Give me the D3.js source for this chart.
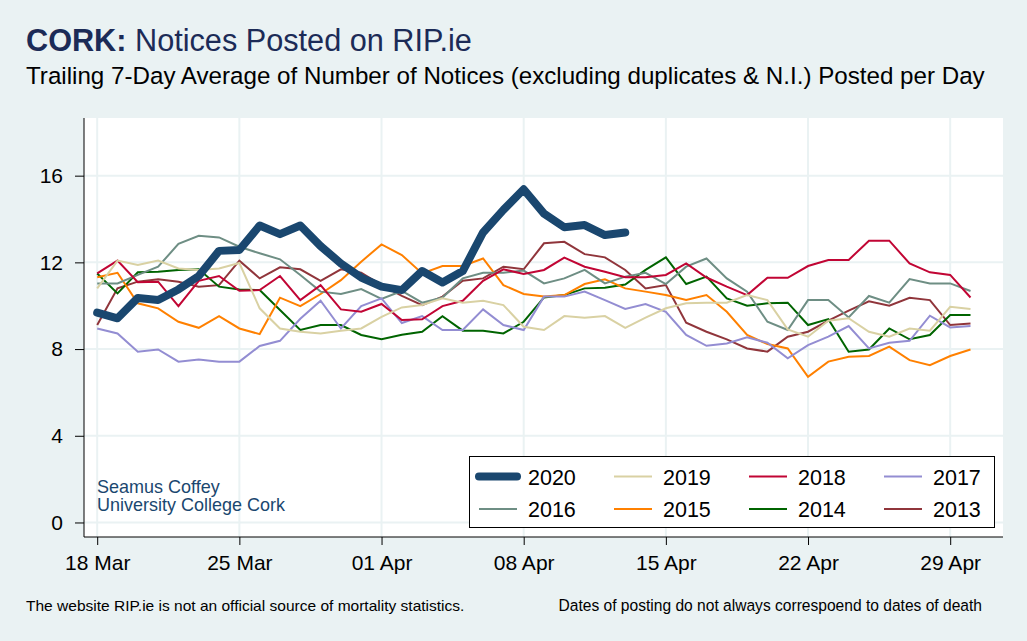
<!DOCTYPE html>
<html><head><meta charset="utf-8">
<script src="https://cdn.jsdelivr.net/npm/d3@7"></script>
<style>
html,body{margin:0;padding:0;background:#eaf2f3;}
svg{display:block;font-family:"Liberation Sans",Arial,sans-serif;}
</style></head>
<body><svg id="chart" width="1027" height="641"></svg>
<script>
// ---- data: day index 0 = 18 Mar ----
const tickDays = [0, 7, 14, 21, 28, 35, 42];
const tickLabels = ["18 Mar", "25 Mar", "01 Apr", "08 Apr", "15 Apr", "22 Apr", "29 Apr"];
const yTicks = [0, 4, 8, 12, 16];
const years = ["2020", "2019", "2018", "2017", "2016", "2015", "2014", "2013"];

const y2020 = [9.68, 9.42, 10.36, 10.26, 10.75, 11.37, 12.53, 12.57, 13.7, 13.3, 13.7, 12.75, 11.95, 11.3, 10.88, 10.72, 11.6, 11.07, 11.6, 13.38, 14.42, 15.37, 14.25, 13.62, 13.72, 13.26, 13.38];
const y2019 = [10.8, 12.08, 11.88, 12.08, 11.72, 11.65, 11.72, 11.97, 9.88, 8.95, 8.8, 8.72, 8.85, 8.95, 9.49, 9.92, 10.03, 10.34, 10.14, 10.23, 10.03, 9.03, 8.88, 9.52, 9.45, 9.52, 8.98, 9.45, 9.88, 10.11, 10.14, 10.14, 10.49, 10.26, 8.91, 8.57, 9.31, 9.42, 8.8, 8.57, 8.95, 8.85, 9.95, 9.85];
const y2018 = [11.49, 12.08, 11.08, 11.11, 9.98, 11.15, 11.37, 10.69, 10.72, 11.37, 10.26, 10.95, 9.83, 9.72, 10.08, 9.34, 9.37, 9.98, 10.23, 11.15, 11.68, 11.46, 11.65, 12.22, 11.8, 11.57, 11.31, 11.31, 11.42, 11.95, 11.3, 10.88, 10.49, 11.29, 11.29, 11.83, 12.11, 12.11, 13.0, 13.0, 11.95, 11.54, 11.42, 10.38];
const y2017 = [8.95, 8.72, 7.88, 7.98, 7.42, 7.52, 7.42, 7.42, 8.14, 8.38, 9.4, 10.23, 8.95, 9.98, 10.34, 9.2, 9.52, 8.88, 8.88, 9.83, 9.11, 8.88, 10.42, 10.42, 10.65, 10.26, 9.85, 10.08, 9.72, 8.65, 8.15, 8.26, 8.54, 8.29, 7.57, 8.18, 8.57, 9.06, 8.03, 8.29, 8.38, 9.54, 9.0, 9.06];
const y2016 = [11.03, 11.03, 11.42, 11.8, 12.85, 13.23, 13.15, 12.72, 12.42, 12.14, 11.42, 10.65, 10.54, 10.77, 10.31, 10.68, 10.14, 10.38, 11.26, 11.52, 11.52, 11.62, 11.03, 11.26, 11.65, 11.03, 11.34, 11.52, 11.0, 11.8, 12.18, 11.26, 10.65, 9.26, 8.88, 10.26, 10.26, 9.46, 10.45, 10.14, 11.23, 11.03, 11.03, 10.68];
const y2015 = [11.31, 11.52, 10.11, 9.88, 9.26, 8.98, 9.52, 8.95, 8.69, 10.37, 9.98, 10.54, 11.18, 12.03, 12.83, 12.34, 11.49, 11.83, 11.83, 12.18, 10.95, 10.54, 10.42, 10.49, 11.0, 11.22, 10.8, 10.65, 10.49, 10.26, 10.49, 9.72, 8.65, 8.23, 8.03, 6.72, 7.42, 7.65, 7.68, 8.11, 7.49, 7.26, 7.68, 7.98];
const y2014 = [11.49, 10.57, 11.54, 11.57, 11.65, 11.68, 10.88, 10.75, 10.72, 9.8, 8.88, 9.11, 9.11, 8.65, 8.45, 8.66, 8.8, 9.52, 8.85, 8.85, 8.72, 9.26, 10.38, 10.49, 10.8, 10.83, 10.98, 11.65, 12.23, 11.0, 11.34, 10.34, 10.0, 10.11, 10.14, 9.11, 9.38, 7.88, 7.98, 8.95, 8.45, 8.65, 9.57, 9.57];
const y2013 = [9.11, 10.8, 11.11, 11.22, 11.11, 10.88, 10.95, 12.08, 11.26, 11.77, 11.68, 11.15, 11.68, 11.52, 10.95, 10.45, 10.03, 10.42, 11.15, 11.26, 11.8, 11.68, 12.88, 12.95, 12.38, 12.23, 11.65, 10.8, 10.95, 9.22, 8.8, 8.45, 8.03, 7.88, 8.57, 8.8, 9.31, 9.77, 10.2, 10.0, 10.37, 10.26, 9.11, 9.18];

const seriesValues = [y2020, y2019, y2018, y2017, y2016, y2015, y2014, y2013];
const colors = ["#1a476f", "#d9d1a3", "#c10534", "#938dd2", "#6e8e84", "#ff8000", "#006400", "#90353b"];

// ---- layout ----
const svg = d3.select("#chart");
const W = 1027, H = 641;
const L = 84, R = 1003, T = 118, B = 537;
const bg = "#eaf2f3";
const FONT = "Liberation Sans, Arial, sans-serif";

svg.append("rect").attr("width", W).attr("height", H).attr("fill", bg);
svg.append("rect").attr("x", L).attr("y", T).attr("width", R - L).attr("height", B - T).attr("fill", "#fff");

const x = d3.scaleLinear().domain([-0.65, 44.6]).range([L, R]);
const y = d3.scaleLinear().domain([-0.67, 18.66]).range([B, T]);

// grid
const g = svg.append("g");
g.selectAll(".hg").data(yTicks).join("line")
  .attr("x1", L).attr("x2", R).attr("y1", d => y(d)).attr("y2", d => y(d))
  .attr("stroke", bg).attr("stroke-width", 2);
g.selectAll(".vg").data(tickDays).join("line")
  .attr("y1", T).attr("y2", B).attr("x1", d => x(d)).attr("x2", d => x(d))
  .attr("stroke", bg).attr("stroke-width", 2);

// axes
const xAxis = d3.axisBottom(x).tickValues(tickDays).tickFormat((d, i) => tickLabels[i]).tickSize(8).tickSizeOuter(0).tickPadding(10);
const yAxis = d3.axisLeft(y).tickValues(yTicks).tickSize(9).tickSizeOuter(0).tickPadding(12);
const gx = svg.append("g").attr("transform", `translate(0,${B})`).call(xAxis);
const gy = svg.append("g").attr("transform", `translate(${L},0)`).call(yAxis);
[gx, gy].forEach(a => {
  a.select(".domain").attr("stroke", "#000").attr("stroke-width", 1);
  a.selectAll(".tick line").attr("stroke", "#000");
  a.selectAll("text").attr("fill", "#000").style("font-size", "21px").style("font-family", FONT);
});
gx.select(".domain").attr("d", `M${L},0H${R}`);
gy.select(".domain").attr("d", `M0,${T}V${B}`);

function fit(sel, w) {
  const n = sel.node(); const cur = n.getComputedTextLength();
  const fs = parseFloat(sel.style("font-size"));
  sel.style("font-size", (fs * w / cur) + "px");
}

// watermark
const w1 = svg.append("text").attr("x", 97).attr("y", 493).attr("fill", "#1a476f").style("font-size", "17px").text("Seamus Coffey");
const w2 = svg.append("text").attr("x", 97).attr("y", 511).attr("fill", "#1a476f").style("font-size", "17px").text("University College Cork");
fit(w2, 188);
w1.style("font-size", w2.style("font-size"));

// lines (draw oldest first so 2020 is on top)
const line = d3.line().x((d, i) => x(i)).y(d => y(d));
for (let k = seriesValues.length - 1; k >= 0; k--) {
  svg.append("path").datum(seriesValues[k])
    .attr("d", line).attr("fill", "none")
    .attr("stroke", colors[k])
    .attr("stroke-width", k === 0 ? 8 : 2)
    .attr("stroke-linejoin", k === 0 ? "round" : "miter")
    .attr("stroke-linecap", k === 0 ? "round" : "butt");
}

// legend
const lg = svg.append("g");
lg.append("rect").attr("x", 469.5).attr("y", 456.5).attr("width", 525).attr("height", 71).attr("fill", "#fff").attr("stroke", "#000").attr("stroke-width", 1);
years.forEach((yr, i) => {
  const col = i % 4, row = Math.floor(i / 4);
  const lx = 479 + col * 135, ly = 476.5 + row * 32.5;
  lg.append("line").attr("x1", lx).attr("x2", lx + 38).attr("y1", ly).attr("y2", ly)
    .attr("stroke", colors[i]).attr("stroke-width", i === 0 ? 8 : 2).attr("stroke-linecap", i === 0 ? "round" : "butt");
  lg.append("text").attr("x", lx + 49).attr("y", ly + 8).style("font-size", "21.5px").attr("fill", "#000").text(yr);
});

// titles
const t1 = svg.append("text").attr("x", 26).attr("y", 51).attr("fill", "#1c2b57").style("font-size", "27px");
t1.append("tspan").style("font-weight", "bold").text("CORK:");
t1.append("tspan").text(" Notices Posted on RIP.ie");
fit(t1, 446);
const t2 = svg.append("text").attr("x", 26).attr("y", 84).attr("fill", "#000").style("font-size", "20px")
  .text("Trailing 7-Day Average of Number of Notices (excluding duplicates & N.I.) Posted per Day");
fit(t2, 959);
const f1 = svg.append("text").attr("x", 26).attr("y", 611).attr("fill", "#000").style("font-size", "14px")
  .text("The website RIP.ie is not an official source of mortality statistics.");
fit(f1, 439);
const f2 = svg.append("text").attr("x", 982).attr("y", 611).attr("text-anchor", "end").attr("fill", "#000").style("font-size", "14px")
  .text("Dates of posting do not always correspoend to dates of death");
fit(f2, 424);
</script></body></html>
